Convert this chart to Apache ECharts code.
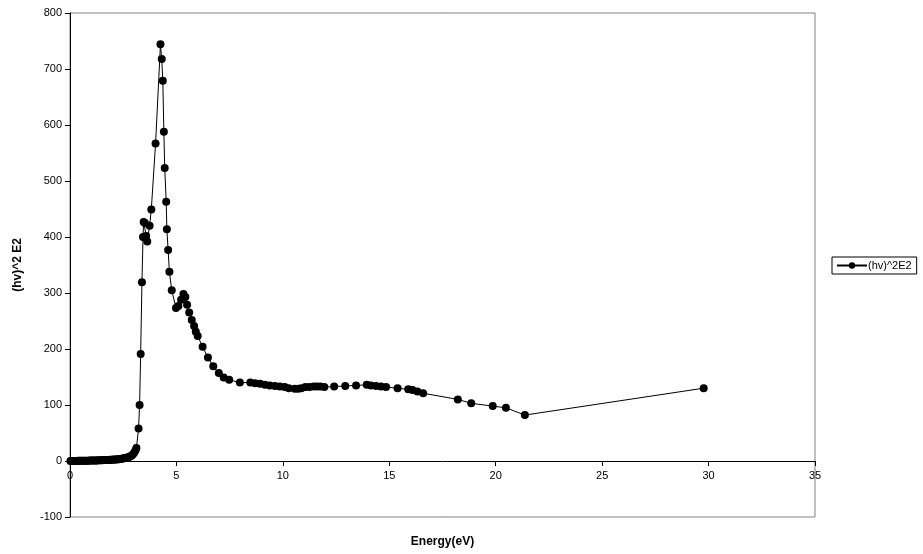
<!DOCTYPE html>
<html>
<head>
<meta charset="utf-8">
<script src="https://cdn.jsdelivr.net/npm/echarts@6/dist/echarts.min.js"></script>
<style>html,body{margin:0;padding:0;background:#fff}#c{width:923px;height:554px}</style>
</head>
<body>
<div id="c"></div>
<script>
const seriesName = '(hv)^2E2';
const xTitle = 'Energy(eV)';
const yTitle = '(hv)^2 E2';
const energy = [0.02,0.08,0.14,0.2,0.26,0.32,0.38,0.44,0.5,0.56,0.62,0.68,0.74,0.8,0.86,0.92,0.98,1.04,1.1,1.16,1.22,1.28,1.34,1.4,1.46,1.52,1.58,1.64,1.7,1.76,1.82,1.88,1.94,2.0,2.06,2.12,2.18,2.24,2.3,2.36,2.42,2.48,2.54,2.6,2.66,2.72,2.78,2.84,2.9,2.96,3.02,3.08,3.12,
  3.22,3.27,3.32,3.38,3.43,3.46,3.52,3.58,3.63,3.74,3.82,4.02,4.25,4.31,4.36,4.41,4.45,4.52,4.55,4.61,4.67,4.78,4.98,5.09,5.22,5.33,5.42,5.5,5.6,5.72,5.83,5.91,6.0,6.23,6.48,6.73,6.99,7.22,7.48,7.98,8.47,8.69,8.93,9.16,9.39,9.63,9.86,10.09,10.28,10.56,10.72,10.87,11.06,11.25,11.45,11.6,11.76,11.95,12.41,12.93,13.44,13.94,14.14,14.38,14.61,14.85,15.39,15.89,16.09,16.32,16.59,18.22,18.85,19.86,20.48,21.37,29.77];
const intensity = [0.1,0.1,0.1,0.2,0.2,0.2,0.3,0.3,0.3,0.4,0.4,0.5,0.5,0.6,0.6,0.7,0.7,0.8,0.9,1.0,1.0,1.1,1.2,1.3,1.4,1.5,1.6,1.7,1.8,1.9,2.0,2.1,2.2,2.4,2.5,2.7,2.9,3.1,3.3,3.6,3.9,4.3,4.7,5.2,5.8,6.5,7.3,8.5,10,12,15,19,23,
  58,100,191,319,400,427,425,402,392,420,449,567,744,718,679,588,523,463,414,377,338,305,273,277,288,298,293,279,265,252,241,231,223,204,185,169,157,149,145,140,140,139,138,136,135,134,133,132,130,129,129,130,132,132,133,133,133,132,133,134,135,136,135,134,133,132,130,128,127,124,121,110,103,98,95,82,130];
const xTicks = {min:0, max:35, interval:5};
const yTicks = {min:-100, max:800, interval:100};

const chart = echarts.init(document.getElementById('c'), null, {renderer:'canvas'});
const font = 'Liberation Sans, Arial, sans-serif';
chart.setOption({
  animation:false,
  backgroundColor:'#fff',
  grid:{left:70, right:108, top:13, bottom:37, show:true, borderColor:'#808080', borderWidth:1, containLabel:false, outerBoundsMode:'none'},
  legend:{
    data:[seriesName], left:832, top:257, orient:'vertical',
    borderColor:'#000', borderWidth:1, padding:[3,5,3,4],
    itemWidth:30, itemHeight:8, itemGap:2,
    textStyle:{fontFamily:font, fontSize:11, color:'#000', padding:[0,0,0,-4]}
  },
  xAxis:{
    type:'value', min:xTicks.min, max:xTicks.max, interval:xTicks.interval,
    position:'bottom', offset:-56,
    name:xTitle, nameLocation:'middle', nameGap:75,
    nameTextStyle:{fontFamily:font, fontSize:12, fontWeight:'bold', color:'#000'},
    axisLine:{show:true, onZero:false, lineStyle:{color:'#000', width:1}},
    axisTick:{show:true, inside:false, length:5, lineStyle:{color:'#000'}},
    axisLabel:{fontFamily:font, fontSize:11, color:'#000', margin:9},
    splitLine:{show:false}
  },
  yAxis:{
    type:'value', min:yTicks.min, max:yTicks.max, interval:yTicks.interval,
    name:yTitle, nameLocation:'middle', nameGap:46, nameRotate:90,
    nameTextStyle:{fontFamily:font, fontSize:12, fontWeight:'bold', color:'#000'},
    axisLine:{show:true, onZero:false, lineStyle:{color:'#000', width:1}},
    axisTick:{show:true, inside:false, length:5, lineStyle:{color:'#000'}},
    axisLabel:{fontFamily:font, fontSize:11, color:'#000', margin:8},
    splitLine:{show:false}
  },
  series:[{
    name:seriesName, type:'line',
    data: energy.map((e,i)=>[e, intensity[i]]),
    symbol:'circle', symbolSize:8, showAllSymbol:true,
    itemStyle:{color:'#000'},
    lineStyle:{color:'#000', width:1},
    emphasis:{disabled:true}
  }]
});
</script>
</body>
</html>
